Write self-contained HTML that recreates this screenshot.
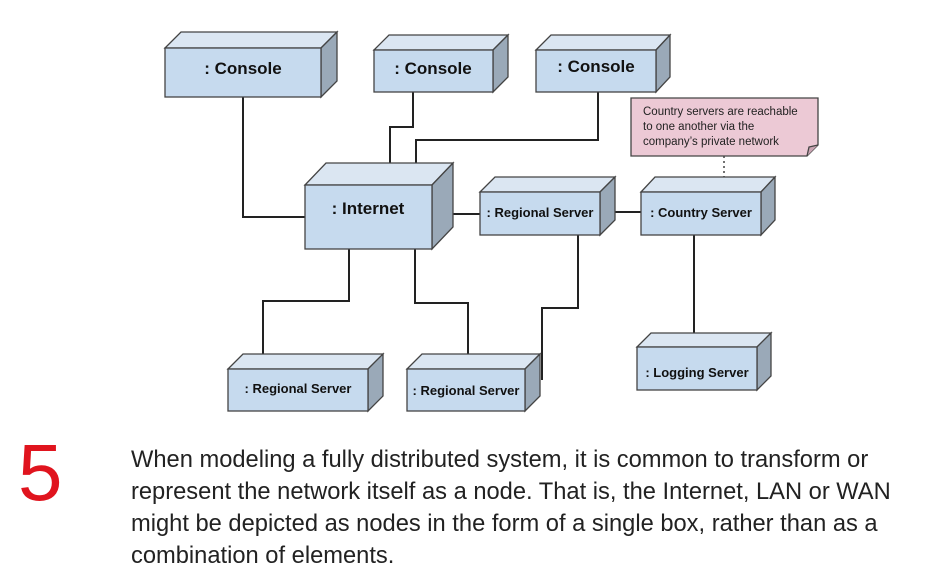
<!DOCTYPE html>
<html><head><style>
body{margin:0;width:940px;height:574px;background:#fff;overflow:hidden;position:relative;font-family:"Liberation Sans",sans-serif}
.p{position:absolute;left:131px;top:444px;font-size:23.7px;line-height:32px;color:#222;width:790px}
.n{position:absolute;left:18px;top:428px;font-size:80px;color:#e0141e;line-height:90px}
</style></head><body>
<svg width="940" height="440" style="position:absolute;left:0;top:0" font-family="Liberation Sans, sans-serif">
<g stroke="#222" stroke-width="2" fill="none">
<polyline points="243,97 243,217 305,217"/>
<polyline points="413,92 413,127 390,127 390,163"/>
<polyline points="598,92 598,140 416,140 416,163"/>
<line x1="453" y1="214" x2="480" y2="214"/>
<line x1="600" y1="212" x2="641" y2="212"/>
<line x1="694" y1="235" x2="694" y2="333"/>
<polyline points="349,249 349,301 263,301 263,354"/>
<polyline points="415,249 415,303 468,303 468,354"/>
<polyline points="578,235 578,308 542,308 542,380"/>
</g>
<line x1="724" y1="156" x2="724" y2="177" stroke="#444" stroke-width="1.5" stroke-dasharray="2,3"/>
<g stroke="#444" stroke-width="1.3">
<path d="M631,98 H818 V145 L807,156 H631 Z" fill="#ecc9d5"/>
<path d="M807,156 L809,147 L818,145" fill="#c9a4b2"/>
</g>
<g font-size="11.5" fill="#222"><text x="643" y="115">Country servers are reachable</text><text x="643" y="130">to one another via the</text><text x="643" y="145">company’s private network</text></g>
<g stroke="#444" stroke-width="1.3">
<path d="M165,48 L181,32 H337 L321,48 Z" fill="#dbe6f2"/><path d="M321,48 L337,32 V81 L321,97 Z" fill="#9aa9b8"/><rect x="165" y="48" width="156" height="49" fill="#c6daee"/>
<path d="M374,50 L389,35 H508 L493,50 Z" fill="#dbe6f2"/><path d="M493,50 L508,35 V77 L493,92 Z" fill="#9aa9b8"/><rect x="374" y="50" width="119" height="42" fill="#c6daee"/>
<path d="M536,50 L551,35 H670 L656,50 Z" fill="#dbe6f2"/><path d="M656,50 L670,35 V77 L656,92 Z" fill="#9aa9b8"/><rect x="536" y="50" width="120" height="42" fill="#c6daee"/>
<path d="M305,185 L326,163 H453 L432,185 Z" fill="#dbe6f2"/><path d="M432,185 L453,163 V227 L432,249 Z" fill="#9aa9b8"/><rect x="305" y="185" width="127" height="64" fill="#c6daee"/>
<path d="M480,192 L495,177 H615 L600,192 Z" fill="#dbe6f2"/><path d="M600,192 L615,177 V220 L600,235 Z" fill="#9aa9b8"/><rect x="480" y="192" width="120" height="43" fill="#c6daee"/>
<path d="M641,192 L655,177 H775 L761,192 Z" fill="#dbe6f2"/><path d="M761,192 L775,177 V220 L761,235 Z" fill="#9aa9b8"/><rect x="641" y="192" width="120" height="43" fill="#c6daee"/>
<path d="M637,347 L651,333 H771 L757,347 Z" fill="#dbe6f2"/><path d="M757,347 L771,333 V376 L757,390 Z" fill="#9aa9b8"/><rect x="637" y="347" width="120" height="43" fill="#c6daee"/>
<path d="M228,369 L243,354 H383 L368,369 Z" fill="#dbe6f2"/><path d="M368,369 L383,354 V396 L368,411 Z" fill="#9aa9b8"/><rect x="228" y="369" width="140" height="42" fill="#c6daee"/>
<path d="M407,369 L422,354 H540 L525,369 Z" fill="#dbe6f2"/><path d="M525,369 L540,354 V396 L525,411 Z" fill="#9aa9b8"/><rect x="407" y="369" width="118" height="42" fill="#c6daee"/>
</g>
<line x1="542" y1="354" x2="542" y2="380" stroke="#222" stroke-width="2"/>
<g font-weight="bold" fill="#111" text-anchor="middle">
<text x="243" y="74" font-size="17">: Console</text>
<text x="433" y="74" font-size="17">: Console</text>
<text x="596" y="72" font-size="17">: Console</text>
<text x="368" y="214" font-size="17">: Internet</text>
<text x="540" y="217" font-size="13">: Regional Server</text>
<text x="701" y="217" font-size="13">: Country Server</text>
<text x="697" y="377" font-size="13">: Logging Server</text>
<text x="298" y="393" font-size="13">: Regional Server</text>
<text x="466" y="395" font-size="13">: Regional Server</text>
</g>
</svg>
<div class="n">5</div>
<div class="p">When modeling a fully distributed system, it is common to transform or represent the network itself as a node. That is, the Internet, LAN or WAN might be depicted as nodes in the form of a single box, rather than as a combination of elements.</div>
</body></html>
